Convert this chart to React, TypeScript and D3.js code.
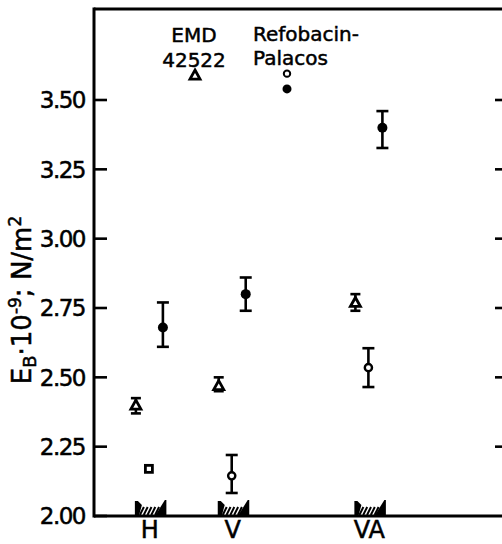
import React from "react";
import * as d3 from "d3";

// ---- data ----
const categories = ["H", "V", "VA"];
const categoryPos = [1.37, 3.4, 6.75]; // abstract x units
const yTicks = [2.0, 2.25, 2.5, 2.75, 3.0, 3.25, 3.5];
const rightTicks = [2.25, 2.5, 2.75, 3.0, 3.25, 3.5];

// EMD 42522 (triangles)
const emdMean = [2.4, 2.47, 2.77];
const emdLow = [2.37, 2.45, 2.74];
const emdHigh = [2.425, 2.5, 2.8];
// Refobacin-Palacos (open circles / square for H)
const refoMean = [2.17, 2.145, 2.535];
const refoLow = [2.17, 2.083, 2.465];
const refoHigh = [2.17, 2.22, 2.605];
// filled circles
const fillMean = [2.68, 2.8, 3.4];
const fillLow = [2.61, 2.74, 3.327];
const fillHigh = [2.77, 2.86, 3.46];

// legend sample values
const legendEmd = 3.59;
const legendRefoOpen = 3.595;
const legendRefoFilled = 3.54;

const W = 502;
const H = 544;
const FONT = "'DejaVu Sans', sans-serif";

export default function App() {
  const y = d3.scaleLinear().domain([2.0, 3.5]).range([516, 100]);
  const x = d3.scaleLinear().domain([0, 10]).range([94, 502]);
  const yTop = y(3.828);
  const left = x(0);
  const right = x(10);
  const bottom = y(2.0);

  const off = { tri: -14, open: -1, fill: 13 };

  const txt = { fill: "#000", stroke: "#000", strokeWidth: 0.5 } as any;

  const errBar = (cx: number, lo: number, hi: number, key: string, cap = 5) => (
    <g key={key} stroke="#000" strokeWidth={2.6}>
      <line x1={cx} x2={cx} y1={y(lo)} y2={y(hi)} />
      <line x1={cx - cap} x2={cx + cap} y1={y(lo)} y2={y(lo)} />
      <line x1={cx - cap} x2={cx + cap} y1={y(hi)} y2={y(hi)} />
    </g>
  );

  const triangle = (cx: number, cy: number, key: string) => (
    <path
      key={key}
      d={`M${cx},${cy - 5} L${cx + 5},${cy + 4} L${cx - 5},${cy + 4} Z`}
      fill="#fff"
      stroke="#000"
      strokeWidth={2.8}
      strokeLinejoin="miter"
    />
  );

  const hatch = (cx: number, key: string) => {
    const x0 = cx - 15;
    const x1 = cx + 15;
    const b = bottom;
    const lines = [];
    for (let hx = x0 + 5; hx < x1 - 9; hx += 3.8) {
      lines.push(<line key={hx} x1={hx} y1={b - 1} x2={hx + 4} y2={b - 9} stroke="#000" strokeWidth={2} />);
    }
    return (
      <g key={key}>
        <path d={`M${x0},${b} L${x0},${b - 15} L${x0 + 3},${b - 15} L${x0 + 7},${b - 11} L${x0 + 4},${b} Z`} fill="#000" />
        {lines}
        <path d={`M${x1 - 10},${b} L${x1},${b - 16} L${x1 + 1.5},${b - 16} L${x1 + 1.5},${b} Z`} fill="#000" />
      </g>
    );
  };

  return (
    <svg
      width={W}
      height={H}
      style={{ position: "absolute", left: 0, top: 0, background: "#fff" }}
      fontFamily={FONT}
    >
      <rect width={W} height={H} fill="#fff" />
      {/* frame */}
      <line x1={left} x2={left} y1={yTop - 1.5} y2={bottom + 1.5} stroke="#000" strokeWidth={3} />
      <line x1={left} x2={right} y1={yTop} y2={yTop} stroke="#000" strokeWidth={3} />
      <line x1={left} x2={right} y1={bottom} y2={bottom} stroke="#000" strokeWidth={3} />

      {/* left ticks */}
      {yTicks.map((t) => (
        <g key={t}>
          <line x1={left} x2={left + 13} y1={y(t)} y2={y(t)} stroke="#000" strokeWidth={2.6} />
          <text x={85} y={y(t)} dy="0.36em" textAnchor="end" fontSize={23} {...txt} letterSpacing={-1.5}>
            {t.toFixed(2)}
          </text>
        </g>
      ))}
      {/* right ticks */}
      {rightTicks.map((t) => (
        <line key={t} x1={right - 7} x2={right} y1={y(t)} y2={y(t)} stroke="#000" strokeWidth={2.6} />
      ))}

      {/* axis label */}
      <text
        transform={`translate(31,${y(2.75) - 8}) rotate(-90)`}
        textAnchor="middle"
        fontSize={26}
        {...txt}
      >
        <tspan>E</tspan>
        <tspan fontSize={18} dy={5}>B</tspan>
        <tspan dy={-5}>·10</tspan>
        <tspan fontSize={17} dy={-10}>-9</tspan>
        <tspan dy={10}>; N/m</tspan>
        <tspan fontSize={17} dy={-10}>2</tspan>
      </text>

      {/* category labels and bases */}
      {categories.map((c, i) => (
        <g key={c}>
          {hatch(x(categoryPos[i]), "h" + c)}
          <text x={x(categoryPos[i])} y={538} textAnchor="middle" fontSize={24} {...txt}>
            {c}
          </text>
        </g>
      ))}

      {/* EMD triangles */}
      {categories.map((c, i) => {
        const cx = x(categoryPos[i]) + off.tri;
        return (
          <g key={"emd" + c}>
            {errBar(cx, emdLow[i], emdHigh[i], "e", 5)}
            {triangle(cx, y(emdMean[i]), "t")}
          </g>
        );
      })}

      {/* Refobacin open markers */}
      {categories.map((c, i) => {
        const cx = x(categoryPos[i]) + off.open;
        const cy = y(refoMean[i]);
        return (
          <g key={"refo" + c}>
            {refoHigh[i] - refoLow[i] > 0.01 && errBar(cx, refoLow[i], refoHigh[i], "e", 6)}
            {i === 0 ? (
              <rect x={cx - 3.5} y={cy - 3.5} width={7} height={7} fill="#fff" stroke="#000" strokeWidth={2.8} />
            ) : (
              <circle cx={cx} cy={cy} r={3.6} fill="#fff" stroke="#000" strokeWidth={2.4} />
            )}
          </g>
        );
      })}

      {/* filled circles */}
      {categories.map((c, i) => {
        const cx = x(categoryPos[i]) + off.fill;
        return (
          <g key={"fill" + c}>
            {errBar(cx, fillLow[i], fillHigh[i], "e", 6)}
            <circle cx={cx} cy={y(fillMean[i])} r={5} fill="#000" />
          </g>
        );
      })}

      {/* legend */}
      <text x={194} y={42} textAnchor="middle" fontSize={20} {...txt}>EMD</text>
      <text x={194} y={67} textAnchor="middle" fontSize={20} {...txt}>42522</text>
      {triangle(195, y(legendEmd), "legtri")}

      <text x={253} y={41} fontSize={20} {...txt}>Refobacin-</text>
      <text x={253} y={65} fontSize={20} {...txt}>Palacos</text>
      <circle cx={287} cy={y(legendRefoOpen)} r={3.2} fill="#fff" stroke="#000" strokeWidth={2} />
      <circle cx={287} cy={y(legendRefoFilled)} r={4.5} fill="#000" />
    </svg>
  );
}
